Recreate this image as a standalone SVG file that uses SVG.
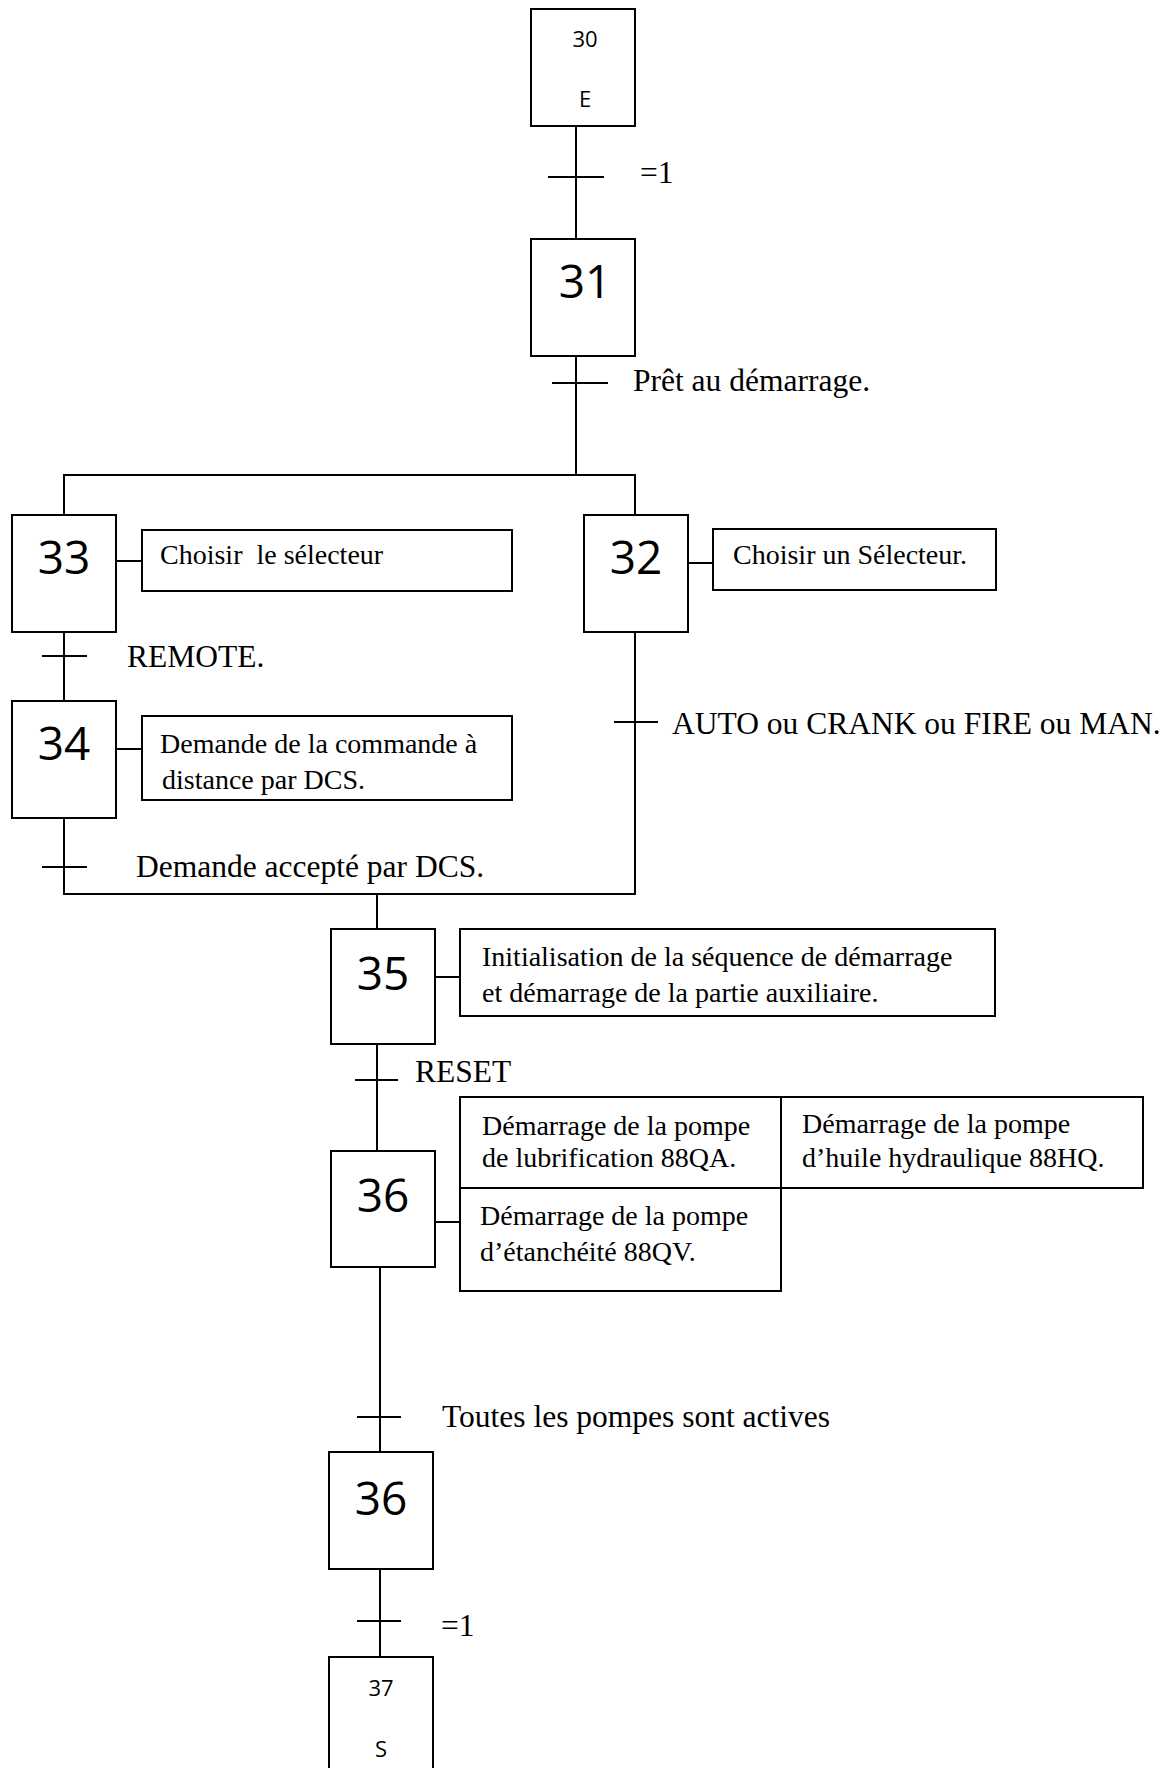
<svg xmlns="http://www.w3.org/2000/svg" width="1173" height="1768" viewBox="0 0 1173 1768">
  <style>
    .box { fill: #fff; stroke: #000; stroke-width: 2; }
    .wire { fill: none; stroke: #000; stroke-width: 2; stroke-linejoin: miter; stroke-linecap: square; }
    .num { font-family: "Open Sans", "Noto Sans", sans-serif; font-size: 46px; fill: #000; text-anchor: middle; }
    .numS { font-family: "Open Sans", "Noto Sans", sans-serif; font-size: 22px; fill: #000; text-anchor: middle; }
    .let { font-family: "Open Sans", "Noto Sans", sans-serif; font-size: 22px; fill: #000; text-anchor: middle; }
    .cond { font-family: "Liberation Serif", "Times New Roman", serif; font-size: 31.5px; fill: #000; }
    .act { font-family: "Liberation Serif", "Times New Roman", serif; font-size: 28px; fill: #000; }
  </style>

  <!-- links, transitions and action ties -->
  <g id="connectors">
    <line class="wire" x1="576" y1="126" x2="576" y2="239"/>
    <line class="wire" x1="549" y1="177" x2="603" y2="177"/>
    <line class="wire" x1="576" y1="356" x2="576" y2="475"/>
    <line class="wire" x1="553" y1="383" x2="607" y2="383"/>
    <polyline class="wire" points="64,515 64,475 635,475 635,515"/>
    <line class="wire" x1="64" y1="632" x2="64" y2="701"/>
    <line class="wire" x1="43" y1="656" x2="86" y2="656"/>
    <polyline class="wire" points="64,818 64,894 635,894 635,632"/>
    <line class="wire" x1="43" y1="867" x2="86" y2="867"/>
    <line class="wire" x1="615" y1="722" x2="657" y2="722"/>
    <line class="wire" x1="377" y1="894" x2="377" y2="929"/>
    <line class="wire" x1="377" y1="1044" x2="377" y2="1151"/>
    <line class="wire" x1="356" y1="1080" x2="397" y2="1080"/>
    <line class="wire" x1="380" y1="1267" x2="380" y2="1452"/>
    <line class="wire" x1="358" y1="1417" x2="400" y2="1417"/>
    <line class="wire" x1="380" y1="1569" x2="380" y2="1657"/>
    <line class="wire" x1="358" y1="1621" x2="400" y2="1621"/>
    <line class="wire" x1="116" y1="561" x2="142" y2="561"/>
    <line class="wire" x1="688" y1="563" x2="713" y2="563"/>
    <line class="wire" x1="116" y1="749" x2="142" y2="749"/>
    <line class="wire" x1="435" y1="977" x2="460" y2="977"/>
    <line class="wire" x1="435" y1="1222" x2="460" y2="1222"/>
  </g>

  <!-- transition conditions -->
  <g id="conditions">
    <text class="cond" x="640" y="183">=1</text>
    <text class="cond" x="633" y="391">Prêt au démarrage.</text>
    <text class="cond" x="127" y="667">REMOTE.</text>
    <text class="cond" x="672" y="734">AUTO ou CRANK ou FIRE ou MAN.</text>
    <text class="cond" x="136" y="877">Demande accepté par DCS.</text>
    <text class="cond" x="415" y="1082">RESET</text>
    <text class="cond" x="442" y="1427">Toutes les pompes sont actives</text>
    <text class="cond" x="441" y="1636">=1</text>
  </g>

  <g id="step30">
    <rect class="box" x="531" y="9" width="104" height="117"/>
    <text class="numS" x="585" y="47">30</text>
    <text class="let" x="585" y="107">E</text>
  </g>

  <g id="step31">
    <rect class="box" x="531" y="239" width="104" height="117"/>
    <text class="num" x="585" y="298">31</text>
  </g>

  <g id="step33">
    <rect class="box" x="12" y="515" width="104" height="117"/>
    <text class="num" x="64" y="574">33</text>
  </g>
  <g id="action33">
    <rect class="box" x="142" y="530" width="370" height="61"/>
    <text class="act" x="160" y="564" xml:space="preserve">Choisir  le sélecteur</text>
  </g>

  <g id="step32">
    <rect class="box" x="584" y="515" width="104" height="117"/>
    <text class="num" x="636" y="574">32</text>
  </g>
  <g id="action32">
    <rect class="box" x="713" y="529" width="283" height="61"/>
    <text class="act" x="733" y="564">Choisir un Sélecteur.</text>
  </g>

  <g id="step34">
    <rect class="box" x="12" y="701" width="104" height="117"/>
    <text class="num" x="64" y="760">34</text>
  </g>
  <g id="action34">
    <rect class="box" x="142" y="716" width="370" height="84"/>
    <text class="act" x="160" y="753">Demande de la commande à</text>
    <text class="act" x="162" y="789">distance par DCS.</text>
  </g>

  <g id="step35">
    <rect class="box" x="331" y="929" width="104" height="115"/>
    <text class="num" x="383" y="990">35</text>
  </g>
  <g id="action35">
    <rect class="box" x="460" y="929" width="535" height="87"/>
    <text class="act" x="482" y="966">Initialisation de la séquence de démarrage</text>
    <text class="act" x="482" y="1002">et démarrage de la partie auxiliaire.</text>
  </g>

  <g id="step36a">
    <rect class="box" x="331" y="1151" width="104" height="116"/>
    <text class="num" x="383" y="1212">36</text>
  </g>
  <g id="action36">
    <rect class="box" x="460" y="1097" width="321" height="91"/>
    <text class="act" x="482" y="1135">Démarrage de la pompe</text>
    <text class="act" x="482" y="1167">de lubrification 88QA.</text>
    <rect class="box" x="781" y="1097" width="362" height="91"/>
    <text class="act" x="802" y="1133">Démarrage de la pompe</text>
    <text class="act" x="802" y="1167">d’huile hydraulique 88HQ.</text>
    <rect class="box" x="460" y="1188" width="321" height="103"/>
    <text class="act" x="480" y="1225">Démarrage de la pompe</text>
    <text class="act" x="480" y="1261">d’étanchéité 88QV.</text>
  </g>

  <g id="step36b">
    <rect class="box" x="329" y="1452" width="104" height="117"/>
    <text class="num" x="381" y="1515">36</text>
  </g>

  <g id="step37">
    <rect class="box" x="329" y="1657" width="104" height="125"/>
    <text class="numS" x="381" y="1696">37</text>
    <text class="let" x="381" y="1757">S</text>
  </g>
</svg>
